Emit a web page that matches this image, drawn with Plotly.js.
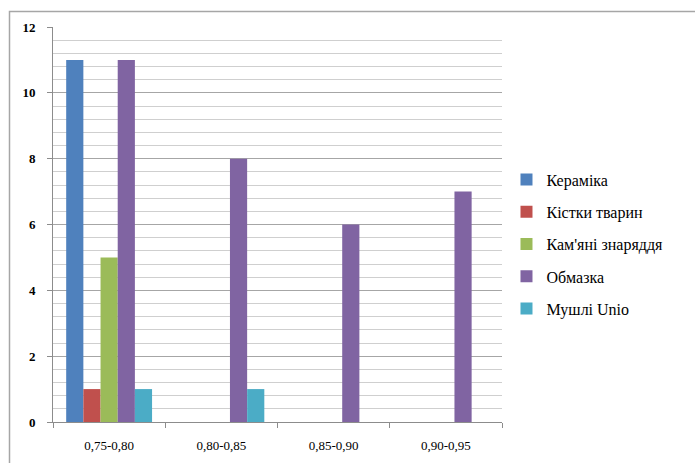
<!DOCTYPE html>
<html>
<head>
<meta charset="utf-8">
<script src="https://cdn.plot.ly/plotly-3.0.1.min.js"></script>
<style>html,body{margin:0;padding:0;background:#fff;}#chart{width:695px;height:463px;}</style>
</head>
<body>
<div id="chart"></div>
<script>
const categories = ['0,75-0,80', '0,80-0,85', '0,85-0,90', '0,90-0,95'];
const seriesNames = ['Кераміка', 'Кістки тварин', "Кам'яні знаряддя", 'Обмазка', 'Мушлі Unio'];
const keramika = [11, 0, 0, 0];
const kistky = [1, 0, 0, 0];
const kamiani = [5, 0, 0, 0];
const obmazka = [11, 8, 6, 7];
const mushli = [1, 1, 0, 0];
const yTicks = [0, 2, 4, 6, 8, 10, 12];

const colors = ['#4F81BD', '#C0504D', '#9BBB59', '#8064A2', '#4BACC6'];
const values = [keramika, kistky, kamiani, obmazka, mushli];

const traces = values.map((v, i) => ({
  type: 'bar',
  name: seriesNames[i],
  x: categories,
  y: v,
  legendgroup: 'g' + i,
  marker: {color: colors[i], line: {width: 0}},
  hoverinfo: 'skip'
}));

const serif = 'Liberation Serif, DejaVu Serif, serif';

const layout = {
  width: 695,
  height: 463,
  margin: {l: 53, r: 193, t: 27, b: 41, pad: 0},
  paper_bgcolor: '#ffffff',
  plot_bgcolor: '#ffffff',
  barmode: 'group',
  bargap: 0.235,
  bargroupgap: 0,
  showlegend: true,
  font: {family: serif},
  legend: {
    x: 1.01, xanchor: 'left',
    y: 0.4506, yanchor: 'middle',
    font: {family: serif, size: 16, color: '#000'},
    tracegroupgap: 8.5,
    itemwidth: 30,
    bgcolor: 'rgba(0,0,0,0)'
  },
  xaxis: {
    type: 'category',
    showline: true,
    linecolor: '#8c8c8c',
    linewidth: 1,
    ticks: 'outside',
    tickson: 'boundaries',
    ticklen: 5,
    tickcolor: '#8c8c8c',
    showgrid: false,
    zeroline: false,
    tickfont: {family: serif, size: 13, color: '#000'},
    ticklabelstandoff: 11
  },
  yaxis: {
    range: [0, 12],
    tickvals: yTicks,
    ticktext: yTicks.map(String),
    showline: true,
    linecolor: '#8c8c8c',
    linewidth: 1,
    ticks: 'outside',
    ticklen: 5,
    tickcolor: '#8c8c8c',
    showgrid: true,
    gridcolor: '#a6a6a6',
    gridwidth: 1,
    zeroline: false,
    tickfont: {family: serif, size: 13, color: '#000', weight: 'bold'},
    ticklabelstandoff: 9,
    minor: {dtick: 0.4, tick0: 0, showgrid: true, gridcolor: '#cfcfcf', gridwidth: 1}
  },
  shapes: [{
    type: 'rect', xref: 'paper', yref: 'paper',
    x0: (9.5 - 53) / 449, x1: 1.5,
    y0: -0.3, y1: 1 + (27 - 11.5) / 395,
    line: {color: '#a6a6a6', width: 1.5},
    fillcolor: 'rgba(0,0,0,0)',
    layer: 'below'
  }]
};

Plotly.newPlot('chart', traces, layout, {displayModeBar: false, staticPlot: true});
</script>
</body>
</html>
